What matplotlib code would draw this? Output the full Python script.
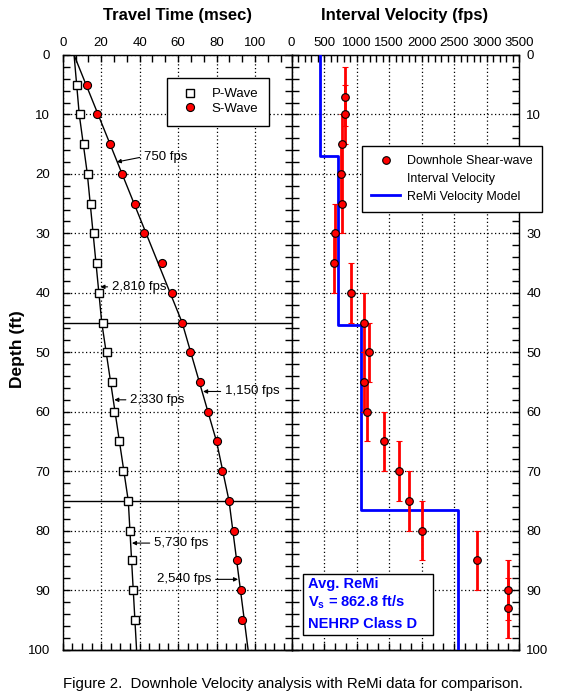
import matplotlib.pyplot as plt
import numpy as np
from matplotlib.lines import Line2D
from matplotlib.patches import Rectangle
from matplotlib.ticker import MultipleLocator

plt.rcParams['font.family'] = ['Liberation Sans', 'DejaVu Sans']
plt.rcParams['mathtext.fontset'] = 'custom'
plt.rcParams['mathtext.rm'] = 'Liberation Sans:bold'
plt.rcParams['mathtext.it'] = 'Liberation Sans:bold'
plt.rcParams['mathtext.bf'] = 'Liberation Sans:bold'

# 走时数据 (msec)
depth = [5, 10, 15, 20, 25, 30, 35, 40, 45, 50, 55, 60, 65, 70, 75, 80, 85, 90, 95]
p_time = [7.3, 9.0, 11.2, 13.3, 14.7, 16.4, 17.7, 18.9, 21.1, 22.9,
          25.5, 26.6, 29.4, 31.5, 34.1, 35.0, 36.2, 36.4, 37.6]
s_time = [12.5, 18.0, 24.6, 31.0, 37.6, 42.4, 51.4, 56.6, 62.1, 66.1,
          71.3, 75.6, 80.5, 82.9, 86.5, 88.9, 90.9, 92.6, 93.5]

# 拟合线
p_fit_depth = [0, 10, 20, 45, 75, 100]
p_fit_time = [5.9, 8.6, 12.8, 20.3, 34.1, 38.4]
s_fit_depth = [0, 45, 65, 75, 100]
s_fit_time = [5.9, 62.1, 80.0, 86.5, 96.4]
layer_breaks = [45, 75]

# 层速度 (fps)
iv_depth = [7, 10, 15, 20, 25, 30, 35, 40, 45, 50, 55, 60, 65, 70, 75, 80, 85, 90, 93]
iv_vel = [829, 829, 783, 757, 783, 665, 654, 921, 1111, 1192,
          1111, 1162, 1418, 1654, 1808, 1998, 2854, 3331, 3331]
iv_err = 5

# ReMi 速度模型
remi_top = [0, 17, 45.4, 76.6]
remi_bottom = [17, 45.4, 76.6, 100]
remi_vel = [445, 716, 1065, 2562]

fig = plt.figure(figsize=(5.63, 6.96), dpi=100)
ax1 = fig.add_axes([0.1114, 0.0668, 0.4064, 0.8542])
ax2 = fig.add_axes([0.5178, 0.0668, 0.4046, 0.8542])

grid_style = dict(color='black', linestyle=(0, (1, 2)), linewidth=0.9)


def style_axis(ax, xmax, xmajor, top_minor, bottom_minor):
    ax.set_xlim(0, xmax)
    ax.set_ylim(100, 0)
    ax.xaxis.set_major_locator(MultipleLocator(xmajor))
    ax.xaxis.set_minor_locator(MultipleLocator(top_minor))
    ax.yaxis.set_major_locator(MultipleLocator(10))
    ax.yaxis.set_minor_locator(MultipleLocator(2))
    ax.xaxis.tick_top()
    ax.tick_params(which='both', direction='in', top=True, bottom=False,
                   left=True, right=True, length=5, width=1, labelsize=9.5)
    ax.tick_params(axis='x', pad=4)
    ax.grid(True, which='major', **grid_style)
    for sp in ax.spines.values():
        sp.set_linewidth(1)
    # 底部刻度
    sec = ax.secondary_xaxis('bottom')
    sec.xaxis.set_major_locator(MultipleLocator(xmajor))
    sec.xaxis.set_minor_locator(MultipleLocator(bottom_minor))
    sec.tick_params(which='both', direction='in', length=5, width=1,
                    labelbottom=False)
    sec.spines['bottom'].set_linewidth(1)


# 左图: 走时
style_axis(ax1, 119, 20, 20 / 3, 5)
ax1.set_xticks([0, 20, 40, 60, 80, 100])
ax1.tick_params(axis='y', labelleft=True, labelright=False, pad=9)

for b in layer_breaks:
    ax1.axhline(b, color='black', lw=1, zorder=2)
ax1.plot(p_fit_time, p_fit_depth, color='black', lw=1, zorder=3)
ax1.plot(s_fit_time, s_fit_depth, color='black', lw=1, zorder=3)
ax1.plot(p_time, depth, 's', ms=5.2, mfc='white', mec='black', mew=1,
         label='P-Wave', zorder=4)
ax1.plot(s_time, depth, 'o', ms=5.8, mfc='red', mec='black', mew=0.8,
         label='S-Wave', zorder=4)

ann_labels = ['750 fps', '2,810 fps', '2,330 fps', '1,150 fps', '5,730 fps', '2,540 fps']
ann_tips = [(28.1, 18.0), (19.6, 39.0), (26.8, 58.0), (73.0, 56.6), (36.0, 82.1), (91.2, 88.2)]
ann_pos = [(42.2, 17.1), (25.5, 39.0), (35.0, 58.0), (84.3, 56.6), (47.4, 82.1), (77.4, 88.2)]
for lab, tip, pos in zip(ann_labels, ann_tips, ann_pos):
    right = pos[0] > tip[0]
    ax1.annotate(lab, xy=tip, xytext=pos, fontsize=9.5,
                 ha='left' if right else 'right', va='center',
                 arrowprops=dict(arrowstyle='-|>', color='black', lw=0.8,
                                 mutation_scale=6, shrinkA=1, shrinkB=0,
                                 relpos=(0, 0.5) if right else (1, 0.5)),
                 zorder=5)

leg1 = ax1.legend(loc='upper left', bbox_to_anchor=(0.4545, 0.9618),
                  borderaxespad=0, fancybox=False, framealpha=1,
                  edgecolor='black', fontsize=9.5, handlelength=1.88,
                  handletextpad=0.73, borderpad=0.8, labelspacing=0.17)
leg1.get_frame().set_linewidth(1)

# 右图: 层速度
style_axis(ax2, 3500, 500, 100, 500 / 3)
ax2.tick_params(axis='y', labelleft=False, labelright=True, pad=5)

step_v = np.repeat(remi_vel, 2)
step_d = np.ravel(np.column_stack([remi_top, remi_bottom]))
ax2.plot(step_v, step_d, color='#0000ff', lw=2, zorder=3)
ax2.errorbar(iv_vel, iv_depth, yerr=iv_err, fmt='o', color='red', ecolor='red',
             elinewidth=2, capsize=2.5, capthick=2, ms=5.5, mfc='red', mec='black',
             mew=0.8, zorder=4)

handles = [Line2D([], [], ls='none', marker='o', ms=5.5, mfc='red', mec='black', mew=0.8),
           Line2D([], [], ls='none'),
           Line2D([], [], color='#0000ff', lw=2)]
labels = ['Downhole Shear-wave', 'Interval Velocity', 'ReMi Velocity Model']
leg2 = ax2.legend(handles, labels, loc='upper left', bbox_to_anchor=(0.308, 0.847),
                  borderaxespad=0, fancybox=False, framealpha=1,
                  edgecolor='black', fontsize=9, handlelength=2.32,
                  handletextpad=0.56, borderpad=0.75, labelspacing=0.46)
leg2.get_frame().set_linewidth(1)
leg2.set_zorder(10)

# Avg. ReMi 文本框
ax2.add_patch(Rectangle((0.0518, 0.0244), 0.5681, 0.1021, transform=ax2.transAxes,
                        fc='white', ec='black', lw=1, zorder=6))
box_lines = ['Avg. ReMi', r'V$_{\rm s}$ = 862.8 ft/s', 'NEHRP Class D']
for txt, y in zip(box_lines, [0.1097, 0.0787, 0.0429]):
    ax2.text(0.0737, y, txt, transform=ax2.transAxes, color='#0000ff',
             fontsize=10.5, fontweight='bold', ha='left', va='center', zorder=7)

fig.text(0.3144, 0.978, 'Travel Time (msec)', ha='center', va='center',
         fontsize=12, fontweight='bold')
fig.text(0.7194, 0.978, 'Interval Velocity (fps)', ha='center', va='center',
         fontsize=12, fontweight='bold')
fig.text(0.031, 0.4986, 'Depth (ft)', ha='center', va='center', rotation=90,
         fontsize=12.5, fontweight='bold')
fig.text(0.5204, 0.0172, 'Figure 2.  Downhole Velocity analysis with ReMi data for comparison.',
         ha='center', va='center', fontsize=10.8)

fig.savefig('out.png', dpi=100)
